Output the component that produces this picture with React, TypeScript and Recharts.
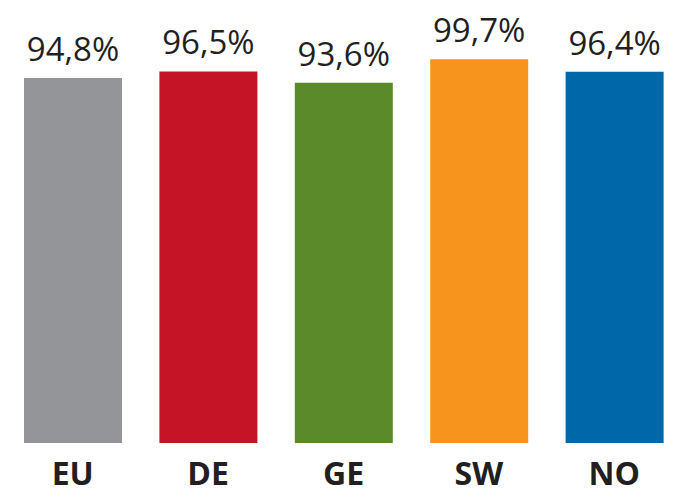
import React from "react";
import { BarChart, Bar, XAxis, YAxis, Cell, LabelList } from "recharts";

const categories = ["EU", "DE", "GE", "SW", "NO"];
const values = [94.8, 96.5, 93.6, 99.7, 96.4];
const colors = ["#939598", "#c41425", "#5a8a2a", "#f7941d", "#0067a8"];

const data = categories.map((c, i) => ({ name: c, value: values[i] }));

const fmt = (v: any) => `${Number(v).toFixed(1).replace(".", ",")}%`;

export default function App() {
  return (
    <div style={{ position: "absolute", left: 0, top: 0, width: 682, height: 494, background: "#fff" }}>
      <BarChart
        width={682}
        height={494}
        data={data}
        margin={{ top: 58, right: 0, left: 5, bottom: 0 }}
        barCategoryGap={0}
      >
        <YAxis hide domain={[0, 100]} />
        <XAxis
          dataKey="name"
          height={51}
          axisLine={false}
          tickLine={false}
          tickSize={0}
          tickMargin={19}
          interval={0}
          tick={{ fill: "#231f20", fontSize: 32, fontWeight: 700, fontFamily: "Open Sans" }}
        />
        <Bar dataKey="value" barSize={98} isAnimationActive={false}>
          {data.map((d, i) => (
            <Cell key={d.name} fill={colors[i]} />
          ))}
          <LabelList
            dataKey="value"
            position="top"
            offset={17}
            formatter={fmt}
            style={{ fill: "#231f20", fontSize: 33, fontFamily: "Open Sans", fontWeight: 400 }}
          />
        </Bar>
      </BarChart>
    </div>
  );
}
